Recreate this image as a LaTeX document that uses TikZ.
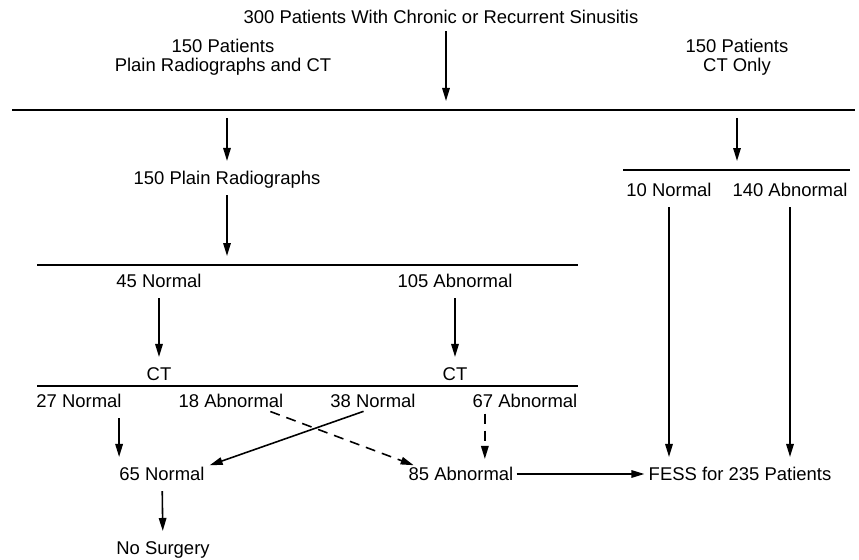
\documentclass[tikz,border=0pt]{standalone}
\usepackage{fontspec}
\setmainfont{Liberation Sans}
\usetikzlibrary{arrows.meta}

\begin{document}
\begin{tikzpicture}[
  x=0.02cm, y=-0.02cm,
  txt/.style={font=\fontsize{10.5}{10.8}\selectfont, inner sep=0pt},
  lab/.style={txt, text height=7.6pt, text depth=0pt},
  arr/.style={-{Triangle[length=2.6mm, width=1.5mm]}, line width=0.9pt, shorten <=2mm, shorten >=2mm},
  darr/.style={arr, dash pattern=on 2mm off 1.4mm},
  bar/.style={line width=0.9pt},
]
\useasboundingbox (0,0) rectangle (859,560);

% ---- first split: 300 patients into two arms ----
\node[txt] (title) at (441,17) {300 Patients With Chronic or Recurrent Sinusitis};
\node[txt, align=center] (lpat) at (223,57) {150 Patients\\Plain Radiographs and CT};
\node[txt, align=center] (rpat) at (737,57) {150 Patients\\CT Only};
\draw[bar] (12,110) coordinate (topL) -- (855,110) coordinate (topR);
\coordinate (split) at (446,110);
\draw[arr, shorten <=1.4mm, shorten >=1.8mm] (title.south -| split) -- (split);

% ---- plain radiograph arm ----
\node[lab] (plain) at (227,178) {150 Plain Radiographs};
\draw[arr, shorten <=1.6mm] (plain |- topL) -- (plain);
\draw[bar] (37,265) coordinate (midL) -- (578,265) coordinate (midR);
\draw[arr, shorten >=1.8mm] (plain) -- (plain |- midL);

\node[lab] (n45) at (159,281) {45 Normal};
\node[lab] (a105) at (455,281) {105 Abnormal};
\node[lab] (ct1) at (159,374) {CT};
\node[lab] (ct2) at (455,374) {CT};
\draw[arr] (n45) -- (ct1);
\draw[arr] (a105) -- (ct2);
\draw[bar] (37,386) coordinate (ctL) -- (578,386) coordinate (ctR);

% ---- CT results of the radiograph arm ----
\node[lab] (n27) at (79,401)  {27 Normal};
\node[lab] (a18) at (231,401) {18 Abnormal};
\node[lab] (n38) at (373,401) {38 Normal};
\node[lab] (a67) at (525,401) {67 Abnormal};

\node[lab] (n65) at (162,474)    {65 Normal};
\node[lab] (a85) at (461,474)    {85 Abnormal};
\node[lab] (fess) at (740,474)   {FESS for 235 Patients};
\node[lab] (nosurg) at (163,548) {No Surgery};

\draw[arr] (n65.north west |- n27.south) -- (n65.north west);
\draw[arr, shorten >=1mm] (n38.south) -- (n65.north east);
\draw[darr, shorten >=1mm] ([xshift=0.6cm]a18.south) -- ([xshift=0.2cm]a85.north west);
\draw[darr, shorten <=1.1mm, shorten >=1.6mm] ([xshift=0.25cm]a67.south west) -- ([xshift=0.25cm]a67.south west |- a85.north);
\draw[arr] (n65) -- (nosurg);
\draw[arr, shorten <=0.6mm, shorten >=0.8mm] (a85) -- (fess);

% ---- CT only arm ----
\draw[bar] (623,170) coordinate (rL) -- (850,170) coordinate (rR);
\draw[arr, shorten <=1.6mm, shorten >=1.8mm] (rpat |- topL) -- (rpat |- rL);
\node[lab] (r10) at (669,190)  {10 Normal};
\node[lab] (r140) at (790,190) {140 Abnormal};
\draw[arr] (r10) -- (r10 |- fess.north);
\draw[arr] (r140) -- (r140 |- fess.north);

\end{tikzpicture}
\end{document}
